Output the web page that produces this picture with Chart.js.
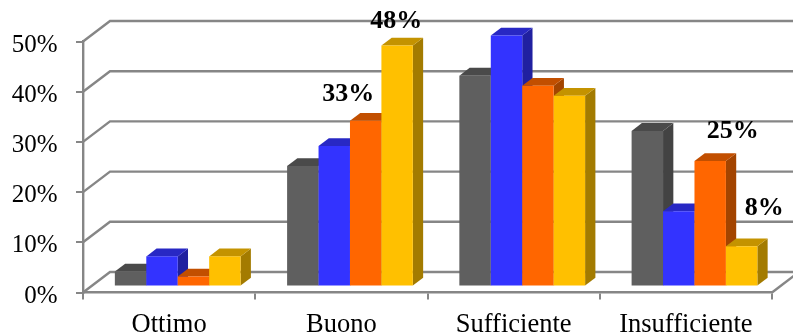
<!DOCTYPE html>
<html>
<head>
<meta charset="utf-8">
<style>html,body{margin:0;padding:0;background:#fff}canvas{display:block}</style>
<script src="https://cdn.jsdelivr.net/npm/chart.js@4"></script>
</head>
<body>
<canvas id="chart" width="793" height="335"></canvas>
<script>
// Survey ratings, percentage of answers per judgement
const categories = ['Ottimo', 'Buono', 'Sufficiente', 'Insufficiente'];
const seriesA = [3, 24, 42, 31];
const seriesB = [6, 28, 50, 15];
const seriesC = [2, 33, 40, 25];
const seriesD = [6, 48, 38, 8];

// Front, top and side shade of each series
const palette = [
  { front: '#5f5f5f', top: '#4a4a4a', side: '#434343' },
  { front: '#3333ff', top: '#2828c4', side: '#2020a0' },
  { front: '#ff6600', top: '#c24f00', side: '#a34400' },
  { front: '#ffc000', top: '#c49300', side: '#a37b00' }
];

// Only a few bars carry a value label: series, category, shift from the bar top
const valueLabels = [
  { series: 2, cat: 1, dx: -17.5, dy: -20 },
  { series: 3, cat: 1, dx: -1,    dy: -17.5 },
  { series: 2, cat: 3, dx: 22.5,  dy: -23 },
  { series: 3, cat: 3, dx: 22.5,  dy: -31 }
];

const AXIS = '#868686';
const SERIF = '"Liberation Serif"';
const WALL = { dx: 27, dy: -20.5 };    // depth of the box behind the front plane
const BAR_PLANE = { dx: 8.6, dy: -6 }; // bars stand partway into the floor
const BAR_DEPTH = { dx: 10.3, dy: -7.8 };

function poly(ctx, pts, fill) {
  ctx.beginPath();
  pts.forEach((p, i) => i ? ctx.lineTo(p[0], p[1]) : ctx.moveTo(p[0], p[1]));
  ctx.closePath();
  ctx.fillStyle = fill;
  ctx.fill();
}

const box3d = {
  id: 'box3d',
  // Back wall lines at each tick, plus the floor edge on the right
  beforeDatasetsDraw(chart) {
    const { ctx, chartArea: a, scales: { y } } = chart;
    ctx.save();
    ctx.strokeStyle = AXIS;
    ctx.lineWidth = 2.4;
    y.ticks.forEach(t => {
      const py = y.getPixelForValue(t.value);
      ctx.beginPath();
      ctx.moveTo(a.left, py);
      ctx.lineTo(a.left + WALL.dx, py + WALL.dy);
      ctx.lineTo(a.right + WALL.dx, py + WALL.dy);
      ctx.stroke();
    });
    ctx.beginPath();
    ctx.moveTo(a.right, a.bottom);
    ctx.lineTo(a.right + WALL.dx, a.bottom + WALL.dy);
    ctx.stroke();
    ctx.restore();

    // Painted left to right so each bar hides the side of the previous one
    ctx.save();
    ctx.translate(BAR_PLANE.dx, BAR_PLANE.dy);
    for (let c = 0; c < categories.length; c++) {
      chart.data.datasets.forEach((ds, i) => {
        const bar = chart.getDatasetMeta(i).data[c];
        const l = bar.x - bar.width / 2, r = bar.x + bar.width / 2;
        const t = bar.y, b = bar.base, d = BAR_DEPTH;
        poly(ctx, [[r, t], [r + d.dx, t + d.dy], [r + d.dx, b + d.dy], [r, b]], palette[i].side);
        poly(ctx, [[l, t], [l + d.dx, t + d.dy], [r + d.dx, t + d.dy], [r, t]], palette[i].top);
        bar.draw(ctx);
      });
    }
    ctx.restore();
    return false;
  },
  afterDraw(chart) {
    const { ctx, scales: { y } } = chart;
    ctx.save();
    ctx.fillStyle = '#000';
    ctx.textBaseline = 'alphabetic';

    // Percentage labels of the value axis sit slightly below their ticks
    ctx.font = '25px ' + SERIF;
    ctx.textAlign = 'right';
    y.ticks.forEach(t => {
      ctx.fillText(t.label, 57.5, y.getPixelForValue(t.value) + 10);
    });

    ctx.font = 'bold 26px ' + SERIF;
    ctx.textAlign = 'center';
    valueLabels.forEach(l => {
      const bar = chart.getDatasetMeta(l.series).data[l.cat];
      const value = chart.data.datasets[l.series].data[l.cat];
      ctx.fillText(value + '%', bar.x + BAR_PLANE.dx + l.dx, bar.y + BAR_PLANE.dy + l.dy);
    });
    ctx.restore();
  }
};

new Chart(document.getElementById('chart'), {
  type: 'bar',
  data: {
    labels: categories,
    datasets: [seriesA, seriesB, seriesC, seriesD].map((data, i) => ({
      data,
      backgroundColor: palette[i].front,
      barPercentage: 1,
      categoryPercentage: 0.73
    }))
  },
  plugins: [box3d],
  options: {
    responsive: false,
    animation: false,
    layout: { padding: { top: 41.5, right: 21, left: 0, bottom: 0 } },
    plugins: { legend: { display: false }, tooltip: { enabled: false } },
    scales: {
      x: {
        afterFit(s) { s.height = 42.5; },
        border: { color: AXIS, width: 2.4 },
        grid: { drawOnChartArea: false, color: AXIS, lineWidth: 2, tickLength: 7 },
        ticks: {
          color: '#000',
          padding: 10,
          maxRotation: 0,
          font: { family: SERIF, size: 26.5 }
        }
      },
      y: {
        min: 0,
        max: 50,
        afterFit(s) { s.width = 83; },
        border: { color: AXIS, width: 2.4 },
        grid: { drawOnChartArea: false, color: AXIS, lineWidth: 2, tickLength: 7 },
        ticks: {
          stepSize: 10,
          padding: 18,
          color: 'rgba(0,0,0,0)',
          callback: v => v + '%',
          font: { family: SERIF, size: 25 }
        }
      }
    }
  }
});
</script>
</body>
</html>
